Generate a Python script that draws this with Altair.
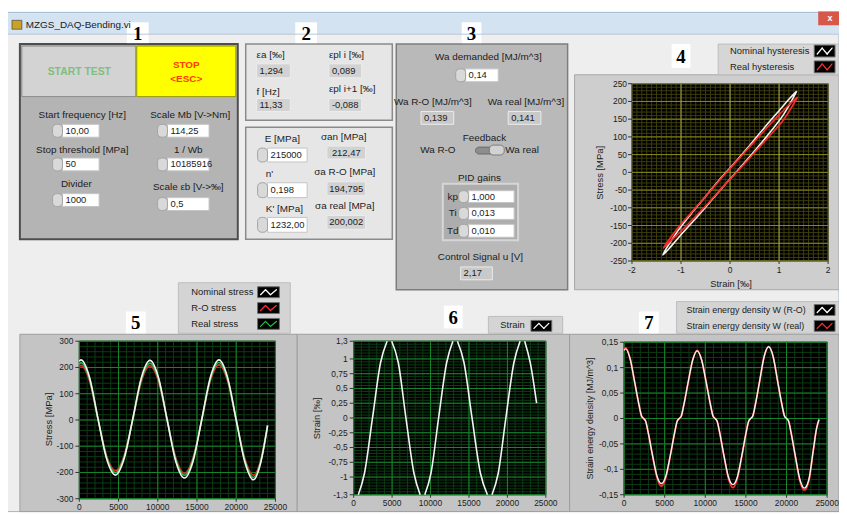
import altair as alt
import pandas as pd

# ------------------------------------------------------------------
# Values
# ------------------------------------------------------------------
window_title = "MZGS_DAQ-Bending.vi"

# panel 1 (controls)
p1_labels = ["Start frequency [Hz]", "Scale Mb [V->Nm]", "Stop threshold [MPa]",
             "1 / Wb", "Divider", "Scale \u03b5b [V->\u2030]"]
p1_values = ["10,00", "114,25", "50", "10185916", "1000", "0,5"]

# panel 2 (indicators)
p2_ind_labels = ["\u03b5a [\u2030]", "\u03b5pl i [\u2030]", "f [Hz]", "\u03b5pl i+1 [\u2030]"]
p2_ind_values = ["1,294", "0,089", "11,33", "-0,088"]
p2_in_labels = ["E [MPa]", "n'", "K' [MPa]"]
p2_in_values = ["215000", "0,198", "1232,00"]
p2_out_labels = ["\u03c3an [MPa]", "\u03c3a R-O [MPa]", "\u03c3a real [MPa]"]
p2_out_values = ["212,47", "194,795", "200,002"]

# panel 3 (energy control)
wa_demanded = "0,14"
wa_ro_value = "0,139"
wa_real_value = "0,141"
pid_names = ["kp", "Ti", "Td"]
pid_values = ["1,000", "0,013", "0,010"]
control_u = "2,17"

# plot 4: hysteresis loops (strain [permil], stress [MPa]), in drawing order
hyst_nom_strain = [1.36, 1.2, 1.0, 0.7, 0.4, 0.1, -0.2, -0.5, -0.8, -1.1, -1.37,
                   -1.2, -1.0, -0.7, -0.4, -0.1, 0.2, 0.5, 0.8, 1.1, 1.36]
hyst_nom_stress = [229, 206, 174, 126, 76, 28, -18, -68, -118, -172, -233,
                   -208, -176, -130, -82, -34, 12, 60, 110, 165, 229]
hyst_real_strain = [1.38, 1.2, 1.0, 0.7, 0.4, 0.1, -0.2, -0.5, -0.8, -1.1, -1.36,
                    -1.2, -1.0, -0.7, -0.4, -0.1, 0.2, 0.5, 0.8, 1.1, 1.38]
hyst_real_stress = [213, 190, 162, 118, 72, 26, -20, -68, -115, -163, -214,
                    -192, -166, -124, -80, -34, 10, 56, 102, 150, 213]

# plot 5: stress vs sample
t5 = [0, 200, 1300, 2400, 3500, 4600, 5700, 6800, 7900, 9000, 10100, 11200,
      12300, 13400, 14500, 15600, 16700, 17800, 18900, 20000, 21100, 22200, 23150, 24000]
stress_nominal = [224, 229, 163, 2, -150, -210, -149, 1, 160, 227, 161, 0,
                  -158, -221, -157, 0, 162, 229, 162, 0, -160, -228, -160, -22]
stress_ro = [203, 208, 149, 0, -138, -193, -137, 0, 146, 207, 147, 0,
             -144, -203, -144, 0, 148, 210, 149, 0, -147, -210, -150, -20]
stress_real = [212, 218, 156, 1, -144, -201, -143, 0, 153, 216, 154, 0,
               -151, -211, -150, 0, 155, 219, 155, 0, -153, -219, -155, -21]

# plot 6: strain vs sample (pieces between the points where it leaves the +-1.3 window)
strain_t = [[600, 1400, 2450, 3500, 4350],
            [4950, 5800, 6800, 7850, 8650],
            [9250, 10050, 11050, 12100, 12900],
            [13500, 14350, 15400, 16500, 17400],
            [18000, 18800, 19800, 20850, 21650],
            [22250, 23000, 23800]]
strain_v = [[-1.3, -0.94, 0.0, 0.94, 1.3],
            [1.3, 0.94, 0.0, -0.94, -1.3],
            [-1.3, -0.94, 0.0, 0.94, 1.3],
            [1.3, 0.94, 0.0, -0.94, -1.3],
            [-1.3, -0.94, 0.0, 0.94, 1.3],
            [1.3, 0.92, 0.25]]

# plot 7: strain energy density vs sample
t7 = [0, 200, 750, 1300, 1850, 2150, 2400, 2650, 2950, 3500,
      4050, 4600, 5150, 5700, 6250, 6550, 6800, 7050, 7350, 7900,
      8450, 9000, 9550, 10100, 10650, 10950, 11200, 11450, 11750, 12300,
      12850, 13400, 13950, 14500, 15050, 15350, 15600, 15850, 16150, 16700,
      17250, 17800, 18350, 18900, 19450, 19750, 20000, 20250, 20550, 21100,
      21650, 22200, 22750, 23300, 23700, 24000]
w_ro = [0.134, 0.137, 0.117, 0.072, 0.026, 0.005, 0.0, -0.005, -0.026, -0.072,
        -0.113, -0.128, -0.113, -0.072, -0.026, -0.005, 0.0, 0.005, 0.026, 0.072,
        0.115, 0.133, 0.115, 0.072, 0.026, 0.005, 0.0, -0.005, -0.026, -0.073,
        -0.115, -0.130, -0.115, -0.073, -0.026, -0.005, 0.0, 0.005, 0.026, 0.074,
        0.122, 0.141, 0.122, 0.074, 0.026, 0.005, 0.0, -0.005, -0.027, -0.075,
        -0.120, -0.137, -0.120, -0.062, -0.020, -0.002]
w_real = [0.137, 0.139, 0.118, 0.072, 0.026, 0.005, 0.0, -0.005, -0.026, -0.073,
          -0.116, -0.133, -0.116, -0.073, -0.026, -0.005, 0.0, 0.005, 0.026, 0.072,
          0.115, 0.134, 0.115, 0.072, 0.026, 0.005, 0.0, -0.005, -0.026, -0.074,
          -0.118, -0.136, -0.118, -0.074, -0.026, -0.005, 0.0, 0.005, 0.026, 0.074,
          0.122, 0.142, 0.122, 0.074, 0.026, 0.005, 0.0, -0.005, -0.027, -0.076,
          -0.123, -0.141, -0.123, -0.063, -0.020, -0.002]

# axis ticks
ticks4_y = [250, 200, 150, 100, 50, 0, -50, -100, -150, -200, -250]
ticks4_x = [-2, -1, 0, 1, 2]
ticks5_y = [300, 200, 100, 0, -100, -200, -300]
ticks_t = [0, 5000, 10000, 15000, 20000, 25000]
ticks6_y = [1.3, 1, 0.75, 0.5, 0.25, 0, -0.25, -0.5, -0.75, -1, -1.3]
ticks6_lab = ["1,3", "1", "0,75", "0,5", "0,25", "0", "-0,25", "-0,5", "-0,75", "-1", "-1,3"]
ticks7_y = [0.15, 0.1, 0.05, 0, -0.05, -0.1, -0.15]
ticks7_lab = ["0,15", "0,1", "0,05", "0", "-0,05", "-0,1", "-0,15"]

# ------------------------------------------------------------------
# Layout helpers (reference pixel positions, page margin removed)
# ------------------------------------------------------------------
OFF = 8
FONT = "Liberation Sans"
SERIF = "Liberation Serif"
INK = "#1c1c1c"

rects, pills, segs, texts = [], [], [], []


def R(x1, y1, x2, y2, fill, stroke="transparent", w=0, lst=None):
    (rects if lst is None else lst).append(
        dict(x=x1 - OFF, x2=x2 - OFF, y=y1 - OFF, y2=y2 - OFF, f=fill, s=stroke, w=w))


def L(x1, y1, x2, y2, color, w=1.0):
    segs.append(dict(x=x1 - OFF, x2=x2 - OFF, y=y1 - OFF, y2=y2 - OFF, c=color, w=w))


def T(x, y, s, size=10, color=INK, align="center", weight="normal", font=FONT, angle=0):
    texts.append(dict(x=x - OFF, y=y - OFF, t=s, sz=size, c=color, al=align,
                      wt=weight, fn=font, a=angle))


def spin_box(x1, y1, x2, y2, value):
    R(x1, y1, x1 + 10, y2, "#d9d9d9", "#a3a3a3", 1, pills)
    R(x1 + 10, y1, x2, y2, "#ffffff", "#c4c4c4", 1)
    T(x1 + 13, (y1 + y2) / 2, value, 9.5, align="left")


def indicator(x1, y1, x2, y2, value, fill="#d2d2d2", align="left"):
    R(x1, y1, x2, y2, fill, "#ececec", 1)
    xt = x1 + 3 if align == "left" else (x1 + x2) / 2
    T(xt, (y1 + y2) / 2, value, 9.5, align=align)


def zigzag(x1, y1, x2, y2, color):
    pts = [(x1 + 3, y2 - 3), (x1 + 8, y1 + 3), (x1 + 13, y2 - 3), (x2 - 3, y1 + 3)]
    for a, b in zip(pts[:-1], pts[1:]):
        L(a[0], a[1], b[0], b[1], color, 1.3)


def legend_swatch(x1, y1, x2, y2, color):
    R(x1, y1, x2, y2, "#000000", "#6e6e6e", 1)
    zigzag(x1, y1, x2, y2, color)


def number_tag(x1, y1, x2, y2, s):
    R(x1, y1, x2, y2, "#ffffff")
    T((x1 + x2) / 2, (y1 + y2) / 2 + 1, s, 19, "#000000", weight="bold", font=SERIF)


# ---------------- window ----------------
R(5, 10, 847, 514, "#eeeeee", "#9db6d2", 1)
R(6, 11, 847, 32, "#d4e3f1")
L(6, 32, 847, 32, "#b7c6d6", 1)
R(826, 9, 847, 23, "#d8574b")
T(838, 16, "x", 9, "#ffffff", weight="bold")
R(12, 18, 22, 27, "#c9a227", "#333333", 0.6)
T(26, 23, window_title, 10, "#1a1a1a", align="left")
L(7, 32, 7, 514, "#7ea6cf", 1.5)

# ---------------- panel 1 ----------------
R(20, 42, 240, 239, "#b4b4b4", "#4e4e4e", 2)
R(22, 44, 137, 95, "#d3d3d3", "#8c8c8c", 1)
T(80, 70, "START TEST", 10.5, "#7ebf80", weight="bold")
R(138, 44, 238, 95, "#ffff00", "#9a9a00", 1)
T(188, 63, "STOP", 10, "#ff3b00", weight="bold")
T(188, 77, "<ESC>", 10, "#ff3b00", weight="bold")
p1_label_pos = [(83, 114), (192, 114), (83, 149), (190, 149), (77, 183), (190, 186)]
p1_boxes = [(53, 123, 100, 136), (159, 123, 211, 136), (53, 157, 100, 170),
            (159, 157, 211, 170), (53, 193, 100, 206), (159, 197, 211, 210)]
for (lx, ly), lab, box, val in zip(p1_label_pos, p1_labels, p1_boxes, p1_values):
    T(lx, ly, lab, 10)
    spin_box(*box, val)
number_tag(128, 20, 150, 41, "1")

# ---------------- panel 2 ----------------
R(248, 42, 396, 119, "#e6e6e6", "#8a8a8a", 1.5)
p2_ind_pos = [(259, 53), (332, 53), (259, 90), (332, 87)]
p2_ind_boxes = [(259, 62, 293, 76), (332, 62, 365, 76), (259, 97, 293, 110), (332, 97, 365, 110)]
for (lx, ly), lab, box, val in zip(p2_ind_pos, p2_ind_labels, p2_ind_boxes, p2_ind_values):
    T(lx, ly, lab, 10, align="left")
    indicator(*box, val)
R(248, 126, 396, 239, "#e6e6e6", "#8a8a8a", 1.5)
p2_in_pos = [(285, 138), (272, 173), (287, 209)]
p2_in_boxes = [(260, 147, 310, 161), (260, 182, 310, 197), (260, 217, 310, 232)]
for (lx, ly), lab, box, val in zip(p2_in_pos, p2_in_labels, p2_in_boxes, p2_in_values):
    T(lx, ly, lab, 10)
    spin_box(*box, val)
p2_out_pos = [(347, 136), (348, 171), (348, 205)]
p2_out_boxes = [(330, 145, 369, 158), (330, 181, 369, 195), (330, 215, 369, 229)]
for (lx, ly), lab, box, val in zip(p2_out_pos, p2_out_labels, p2_out_boxes, p2_out_values):
    T(lx, ly, lab, 10)
    indicator(*box, val, align="center")
number_tag(298, 20, 320, 41, "2")

# ---------------- panel 3 ----------------
R(400, 42, 573, 290, "#b9b9b9", "#7d7d7d", 1.5)
T(493, 55, "Wa demanded [MJ/m^3]", 10)
spin_box(460, 67, 503, 80, wa_demanded)
T(437, 101, "Wa R-O [MJ/m^3]", 10)
T(531, 101, "Wa real [MJ/m^3]", 10)
indicator(425, 110, 458, 123, wa_ro_value, fill="#c9c9c9")
indicator(513, 110, 546, 123, wa_real_value, fill="#c9c9c9")
T(489, 137, "Feedback", 10)
T(442, 149, "Wa R-O", 10)
T(527, 149, "Wa real", 10)
R(480, 146, 507, 153, "#8d8d8d", "#6a6a6a", 1, pills)
R(494, 144, 509, 154, "#d2d2d2", "#7a7a7a", 1, pills)
T(484, 177, "PID gains", 10)
R(447, 183, 523, 240, "#adadad", "#d6d6d6", 2)
pid_rows = [(190, 202), (207, 219), (224, 237)]
for name, (y1, y2), val in zip(pid_names, pid_rows, pid_values):
    T(457, (y1 + y2) / 2, name, 10)
    spin_box(463, y1, 519, y2, val)
T(485, 257, "Control Signal u [V]", 10)
indicator(465, 267, 497, 280, control_u, fill="#c9c9c9")
number_tag(466, 20, 486, 41, "3")

# ---------------- plot 4 frame ----------------
R(580, 73, 847, 290, "#cecece", "#a8a8a8", 1)
R(638, 82, 836, 261, "#000000", "#7a7a7a", 1)
number_tag(678, 42, 697, 66, "4")
R(725, 42, 847, 73, "#d6d6d6", "#bcbcbc", 1)
T(737, 49, "Nominal hysteresis", 9.5, align="left")
T(737, 65, "Real hysteresis", 9.5, align="left")
legend_swatch(822, 43, 843, 55, "#ffffff")
legend_swatch(822, 59, 843, 71, "#ff3030")
T(738, 284, "Strain [\u2030]", 9.5)
T(606, 172, "Stress  [MPa]", 9.5, angle=270)

# ---------------- plot 5 frame ----------------
R(20, 335, 300, 514, "#c4c4c4", "#9e9e9e", 1)
R(80, 342, 278, 501, "#000000", "#7a7a7a", 1)
number_tag(127, 312, 147, 334, "5")
R(180, 283, 293, 334, "#d4d4d4", "#bcbcbc", 1)
T(193, 292, "Nominal stress", 9.5, align="left")
T(193, 308, "R-O stress", 9.5, align="left")
T(193, 325, "Real stress", 9.5, align="left")
legend_swatch(260, 287, 282, 298, "#ffffff")
legend_swatch(260, 303, 282, 314, "#ff2a2a")
legend_swatch(260, 319, 282, 330, "#22c040")
T(49, 421, "Stress  [MPa]", 9.5, angle=270)

# ---------------- plot 6 frame ----------------
R(300, 335, 575, 514, "#c4c4c4", "#9e9e9e", 1)
R(357, 342, 551, 497, "#000000", "#7a7a7a", 1)
number_tag(448, 306, 467, 329, "6")
R(493, 317, 568, 334, "#d4d4d4", "#bcbcbc", 1)
T(505, 326, "Strain", 9.5, align="left")
legend_swatch(536, 321, 557, 332, "#ffffff")
T(320, 420, "Strain [\u2030]", 9.5, angle=270)

# ---------------- plot 7 frame ----------------
R(575, 335, 847, 514, "#c4c4c4", "#9e9e9e", 1)
R(630, 343, 835, 497, "#000000", "#7a7a7a", 1)
number_tag(645, 312, 665, 334, "7")
R(683, 302, 847, 334, "#d4d4d4", "#bcbcbc", 1)
T(693, 310, "Strain energy density W (R-O)", 9, align="left")
T(693, 327, "Strain energy density W (real)", 9, align="left")
legend_swatch(822, 305, 843, 316, "#ffffff")
legend_swatch(822, 321, 843, 332, "#ff3030")
T(596, 420, "Strain energy density [MJ/m^3]", 9, angle=270)


# ------------------------------------------------------------------
# Chart builders
# ------------------------------------------------------------------
def rect_chart(rows, radius=0):
    df = pd.DataFrame(rows)
    return alt.Chart(df).mark_rect(cornerRadius=radius).encode(
        x=alt.X("x:Q", scale=None, axis=None), x2="x2:Q",
        y=alt.Y("y:Q", scale=None, axis=None), y2="y2:Q",
        fill=alt.Fill("f:N", scale=None), stroke=alt.Stroke("s:N", scale=None),
        strokeWidth=alt.StrokeWidth("w:Q", scale=None))


def seg_chart(rows):
    df = pd.DataFrame(rows)
    return alt.Chart(df).mark_rule(strokeCap="round").encode(
        x=alt.X("x:Q", scale=None, axis=None), x2="x2:Q",
        y=alt.Y("y:Q", scale=None, axis=None), y2="y2:Q",
        color=alt.Color("c:N", scale=None),
        strokeWidth=alt.StrokeWidth("w:Q", scale=None))


def text_charts(rows):
    df = pd.DataFrame(rows)
    out = []
    for (al, wt, fn), g in df.groupby(["al", "wt", "fn"]):
        out.append(alt.Chart(g).mark_text(align=al, baseline="middle", fontWeight=wt, font=fn).encode(
            x=alt.X("x:Q", scale=None, axis=None), y=alt.Y("y:Q", scale=None, axis=None),
            text="t:N", size=alt.Size("sz:Q", scale=None), color=alt.Color("c:N", scale=None),
            angle=alt.Angle("a:Q", scale=None)))
    return out


def sc(dom, r0, r1, clamp=False):
    return alt.Scale(domain=dom, range=[r0 - OFF, r1 - OFF], nice=False, zero=False, clamp=clamp)


def vgrid(vals, xs, top, bottom, color, w=1.0):
    return alt.Chart(pd.DataFrame({"v": vals})).mark_rule(color=color, strokeWidth=w).encode(
        x=alt.X("v:Q", scale=xs, axis=None), y=alt.value(top - OFF), y2=alt.value(bottom - OFF))


def hgrid(vals, ys, left, right, color, w=1.0):
    return alt.Chart(pd.DataFrame({"v": vals})).mark_rule(color=color, strokeWidth=w).encode(
        y=alt.Y("v:Q", scale=ys, axis=None), x=alt.value(left - OFF), x2=alt.value(right - OFF))


def ylabels(vals, labs, ys, xr, plot_left):
    df = pd.DataFrame({"v": vals, "lab": labs})
    txt = alt.Chart(df).mark_text(align="right", baseline="middle", fontSize=8.5, font=FONT, color=INK).encode(
        y=alt.Y("v:Q", scale=ys, axis=None), x=alt.value(xr - OFF), text="lab:N")
    tk = alt.Chart(df).mark_rule(color="#333333").encode(
        y=alt.Y("v:Q", scale=ys, axis=None), x=alt.value(plot_left - 4 - OFF), x2=alt.value(plot_left - OFF))
    return [tk, txt]


def xlabels(vals, labs, xs, y, plot_bottom):
    df = pd.DataFrame({"v": vals, "lab": labs})
    txt = alt.Chart(df).mark_text(align="center", baseline="middle", fontSize=8.5, font=FONT, color=INK).encode(
        x=alt.X("v:Q", scale=xs, axis=None), y=alt.value(y - OFF), text="lab:N")
    tk = alt.Chart(df).mark_rule(color="#333333").encode(
        x=alt.X("v:Q", scale=xs, axis=None), y=alt.value(plot_bottom - OFF), y2=alt.value(plot_bottom + 3 - OFF))
    return [tk, txt]


def line(xv, yv, xs, ys, color, w=1.5, interp="monotone", order=False):
    df = pd.DataFrame({"a": xv, "b": yv, "i": list(range(len(xv)))})
    enc = dict(x=alt.X("a:Q", scale=xs, axis=None), y=alt.Y("b:Q", scale=ys, axis=None))
    if order:
        enc["order"] = alt.Order("i:Q")
    return alt.Chart(df).mark_line(color=color, strokeWidth=w, interpolate=interp).encode(**enc)


def frange(a, b, step):
    n = int(round((b - a) / step))
    return [round(a + k * step, 6) for k in range(n + 1)]


def tlab(v):
    return str(v)


# ---------------- plot 4 ----------------
xs4 = sc([-2, 2], 638, 836)
ys4 = sc([-250, 250], 261, 82)
p4 = alt.layer(
    vgrid(frange(-2, 2, 0.1), xs4, 82, 261, "#3e3e0c"),
    hgrid(frange(-250, 250, 10), ys4, 638, 836, "#3e3e0c"),
    hgrid(frange(-250, 250, 50), ys4, 638, 836, "#8a8a1c"),
    vgrid([-1, 0, 1], xs4, 82, 261, "#a9a94a"),
    line(hyst_nom_strain, hyst_nom_stress, xs4, ys4, "#f2f2f2", 1.6, "catmull-rom", True),
    line(hyst_real_strain, hyst_real_stress, xs4, ys4, "#ff2b2b", 1.6, "catmull-rom", True),
    *ylabels(ticks4_y, [tlab(v) for v in ticks4_y], ys4, 633, 638),
    *xlabels(ticks4_x, [tlab(v) for v in ticks4_x], xs4, 270, 261),
)

# ---------------- plot 5 ----------------
xs5 = sc([0, 25000], 80, 278)
ys5 = sc([-300, 300], 501, 342)
GMIN, GMAJ = "#0b3d13", "#15882d"
p5 = alt.layer(
    vgrid(frange(0, 25000, 1000), xs5, 342, 501, GMIN),
    hgrid(frange(-300, 300, 20), ys5, 80, 278, GMIN),
    vgrid(ticks_t, xs5, 342, 501, GMAJ),
    hgrid(ticks5_y, ys5, 80, 278, GMAJ),
    line(t5, stress_ro, xs5, ys5, "#e02a2a", 1.6),
    line(t5, stress_real, xs5, ys5, "#2bc04e", 1.6),
    line(t5, stress_nominal, xs5, ys5, "#f4f4f4", 1.6),
    *ylabels(ticks5_y, [tlab(v) for v in ticks5_y], ys5, 74, 80),
    *xlabels(ticks_t, [tlab(v) for v in ticks_t], xs5, 509, 501),
)

# ---------------- plot 6 ----------------
xs6 = sc([0, 25000], 357, 551)
ys6 = sc([-1.3, 1.3], 497, 342)
seg_rows = []
for k, (tt, vv) in enumerate(zip(strain_t, strain_v)):
    for a, b in zip(tt, vv):
        seg_rows.append({"a": a, "b": b, "k": k})
strain_line = alt.Chart(pd.DataFrame(seg_rows)).mark_line(
    color="#f4f4f4", strokeWidth=1.6, interpolate="monotone").encode(
    x=alt.X("a:Q", scale=xs6, axis=None), y=alt.Y("b:Q", scale=ys6, axis=None), detail="k:N")
p6 = alt.layer(
    vgrid(frange(0, 25000, 1000), xs6, 342, 497, GMIN),
    hgrid(frange(-1.3, 1.3, 0.05), ys6, 357, 551, GMIN),
    vgrid(ticks_t, xs6, 342, 497, GMAJ),
    hgrid(ticks6_y, ys6, 357, 551, GMAJ),
    strain_line,
    *ylabels(ticks6_y, ticks6_lab, ys6, 351, 357),
    *xlabels(ticks_t, [tlab(v) for v in ticks_t], xs6, 505, 497),
)

# ---------------- plot 7 ----------------
xs7 = sc([0, 25000], 630, 835)
ys7 = sc([-0.15, 0.15], 497, 343)
p7 = alt.layer(
    vgrid(frange(0, 25000, 1000), xs7, 343, 497, GMIN),
    hgrid(frange(-0.15, 0.15, 0.01), ys7, 630, 835, GMIN),
    vgrid(ticks_t, xs7, 343, 497, GMAJ),
    hgrid(ticks7_y, ys7, 630, 835, GMAJ),
    line(t7, w_real, xs7, ys7, "#ff2b2b", 1.8),
    line(t7, w_ro, xs7, ys7, "#f4f4f4", 1.4),
    *ylabels(ticks7_y, ticks7_lab, ys7, 624, 630),
    *xlabels(ticks_t, [tlab(v) for v in ticks_t], xs7, 505, 497),
)

layers = [rect_chart(rects), rect_chart(pills, radius=4), seg_chart(segs), p4, p5, p6, p7] + text_charts(texts)

chart = alt.layer(*layers).resolve_scale(
    x="independent", y="independent", color="independent", size="independent",
    strokeWidth="independent", angle="independent", fill="independent", stroke="independent"
).properties(
    width=839, height=506, padding=0, autosize=alt.AutoSizeParams(type="none")
).configure_view(stroke=None)

chart.save("out.html", embed_options={"renderer": "svg", "actions": False})
